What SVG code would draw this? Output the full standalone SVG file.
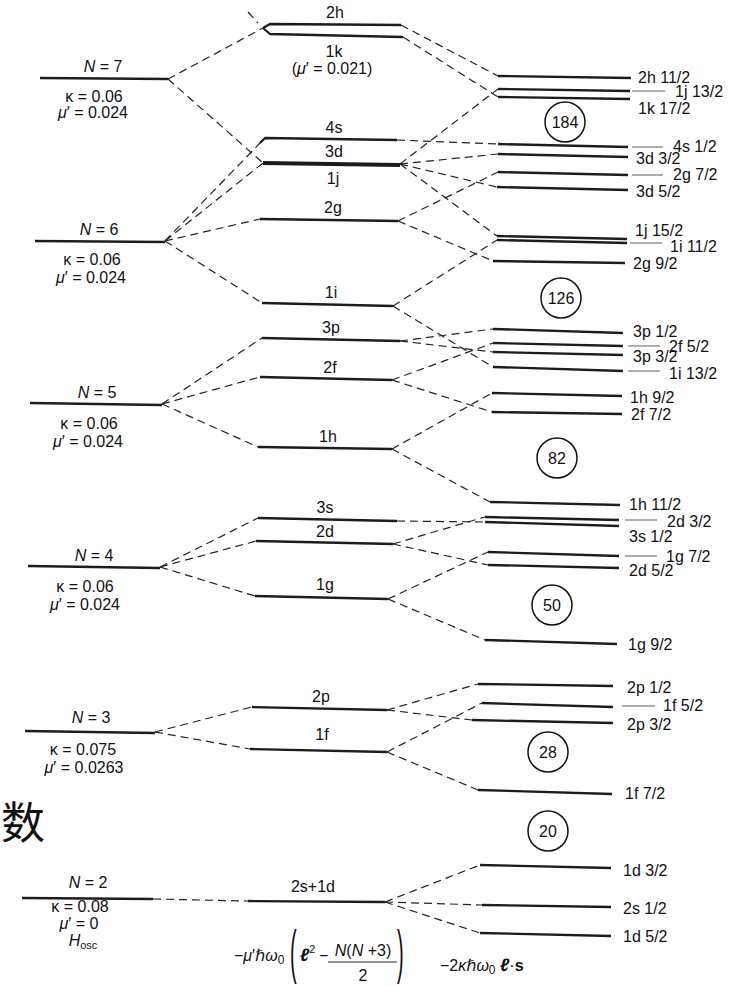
<svg xmlns="http://www.w3.org/2000/svg" width="732" height="987" viewBox="0 0 732 987">
<style>
.lv{stroke:#1c1c1c;stroke-width:2.3;fill:none;stroke-linejoin:round}
.thk{stroke:#1c1c1c;stroke-width:4;fill:none}
.dash{stroke:#222;stroke-width:1.2;stroke-dasharray:8 5;fill:none}
.lead{stroke:#333;stroke-width:0.8}
.mag{fill:none;stroke:#111;stroke-width:1.5}
text{font-family:"Liberation Sans",Arial,"DejaVu Sans",sans-serif;font-size:16px;fill:#111}
.m{text-anchor:middle}
.i{font-style:italic}
</style>
<rect width="732" height="987" fill="#fff"/>

<!-- left oscillator levels -->
<g id="N7"><path class="lv" d="M40,78 L168,79"/><text class="m" x="103" y="72"><tspan class="i">N</tspan> = 7</text><text class="m" x="94" y="102">κ = 0.06</text><text class="m" x="93" y="118"><tspan class="i">μ</tspan>′ = 0.024</text></g>
<g id="N6"><path class="lv" d="M35,241 L165,242"/><text class="m" x="99" y="235"><tspan class="i">N</tspan> = 6</text><text class="m" x="92" y="265">κ = 0.06</text><text class="m" x="91" y="283"><tspan class="i">μ</tspan>′ = 0.024</text></g>
<g id="N5"><path class="lv" d="M30,403 L162,405"/><text class="m" x="97" y="398"><tspan class="i">N</tspan> = 5</text><text class="m" x="89" y="429">κ = 0.06</text><text class="m" x="88" y="447"><tspan class="i">μ</tspan>′ = 0.024</text></g>
<g id="N4"><path class="lv" d="M28,566 L160,568"/><text class="m" x="94" y="561"><tspan class="i">N</tspan> = 4</text><text class="m" x="85" y="592">κ = 0.06</text><text class="m" x="85" y="610"><tspan class="i">μ</tspan>′ = 0.024</text></g>
<g id="N3"><path class="lv" d="M25,731 L155,733"/><text class="m" x="91" y="723"><tspan class="i">N</tspan> = 3</text><text class="m" x="83" y="755">κ = 0.075</text><text class="m" x="84" y="773"><tspan class="i">μ</tspan>′ = 0.0263</text></g>
<g id="N2"><path class="lv" d="M22,898 L153,899"/><text class="m" x="88" y="888"><tspan class="i">N</tspan> = 2</text><text class="m" x="80" y="912">κ = 0.08</text><text class="m" x="79" y="929"><tspan class="i">μ</tspan>′ = 0</text><text class="m" x="83" y="946"><tspan class="i">H</tspan><tspan font-size="11" dy="3">osc</tspan></text></g>

<text x="1" y="839" style="font-family:'Noto Sans CJK SC','Noto Sans CJK JP',sans-serif;font-size:44px">数</text>

<!-- middle levels -->
<g id="m2h"><path class="lv" d="M263,28 L270,24 L401,25"/><text class="m" x="335" y="18">2h</text></g>
<g id="m1k"><path class="lv" d="M263,28 L270,34 L403,37"/><text class="m" x="334" y="57">1k</text><text class="m" x="332" y="74">(<tspan class="i">μ</tspan>′ = 0.021)</text></g>
<g id="m4s"><path class="lv" d="M260,143 L265,138 L397,140"/><text class="m" x="334" y="133">4s</text></g>
<g id="m3d1j"><path class="thk" d="M263,163 L400,165"/><text class="m" x="334" y="157">3d</text><text class="m" x="333" y="184">1j</text></g>
<g id="m2g"><path class="lv" d="M260,219 L398,221"/><text class="m" x="333" y="213">2g</text></g>
<g id="m1i"><path class="lv" d="M262,303 L393,306"/><text class="m" x="331" y="298">1i</text></g>
<g id="m3p"><path class="lv" d="M262,338 L400,341"/><text class="m" x="331" y="333">3p</text></g>
<g id="m2f"><path class="lv" d="M260,377 L392,380"/><text class="m" x="330" y="373">2f</text></g>
<g id="m1h"><path class="lv" d="M258,447 L392,449"/><text class="m" x="328" y="442">1h</text></g>
<g id="m3s"><path class="lv" d="M258,518 L397,521"/><text class="m" x="325" y="513">3s</text></g>
<g id="m2d"><path class="lv" d="M256,541 L393,544"/><text class="m" x="325" y="537">2d</text></g>
<g id="m1g"><path class="lv" d="M255,596 L388,599"/><text class="m" x="325" y="590">1g</text></g>
<g id="m2p"><path class="lv" d="M252,707 L387,710"/><text class="m" x="321" y="702">2p</text></g>
<g id="m1f"><path class="lv" d="M250,749 L387,752"/><text class="m" x="322" y="740">1f</text></g>
<g id="m2s1d"><path class="lv" d="M248,901 L385,902"/><text class="m" x="313" y="892">2s+1d</text></g>

<!-- right levels -->
<g id="r2h112"><path class="lv" d="M498,76 L631,78"/><text x="638" y="83">2h 11/2</text></g>
<g id="r1j132"><path class="lv" d="M498,89 L630,91"/><line class="lead" x1="632" y1="91" x2="665" y2="91"/><text x="675" y="97">1j 13/2</text></g>
<g id="r1k172"><path class="lv" d="M498,97 L630,99"/><text x="638" y="114">1k 17/2</text></g>
<g id="r4s12"><path class="lv" d="M498,144 L628,147"/><line class="lead" x1="632" y1="147" x2="663" y2="147"/><text x="673" y="152">4s 1/2</text></g>
<g id="r3d32"><path class="lv" d="M498,154 L628,157"/><text x="636" y="164">3d 3/2</text></g>
<g id="r2g72"><path class="lv" d="M498,172 L628,175"/><line class="lead" x1="632" y1="175" x2="663" y2="175"/><text x="673" y="180">2g 7/2</text></g>
<g id="r3d52"><path class="lv" d="M497,187 L628,190"/><text x="636" y="197">3d 5/2</text></g>
<g id="r1j152"><path class="lv" d="M497,236 L627,239"/><text x="635" y="236">1j 15/2</text></g>
<g id="r1i112"><path class="lv" d="M497,240 L627,243"/><line class="lead" x1="630" y1="243" x2="662" y2="243"/><text x="670" y="252">1i 11/2</text></g>
<g id="r2g92"><path class="lv" d="M493,261 L625,263"/><text x="633" y="269">2g 9/2</text></g>
<g id="r3p12"><path class="lv" d="M493,329 L623,333"/><text x="633" y="337">3p 1/2</text></g>
<g id="r2f52"><path class="lv" d="M493,343 L623,346"/><line class="lead" x1="628" y1="346" x2="660" y2="346"/><text x="669" y="352">2f 5/2</text></g>
<g id="r3p32"><path class="lv" d="M493,352 L623,355"/><text x="633" y="362">3p 3/2</text></g>
<g id="r1i132"><path class="lv" d="M493,367 L623,371"/><line class="lead" x1="628" y1="371" x2="660" y2="371"/><text x="669" y="379">1i 13/2</text></g>
<g id="r1h92"><path class="lv" d="M492,393 L622,396"/><text x="630" y="403">1h 9/2</text></g>
<g id="r2f72"><path class="lv" d="M492,412 L622,414"/><text x="631" y="420">2f 7/2</text></g>
<g id="r1h112"><path class="lv" d="M490,502 L620,505"/><text x="629" y="510">1h 11/2</text></g>
<g id="r2d32"><path class="lv" d="M485,517 L619,520"/><line class="lead" x1="625" y1="520" x2="657" y2="520"/><text x="667" y="527">2d 3/2</text></g>
<g id="r3s12"><path class="lv" d="M485,522 L619,526"/><text x="629" y="542">3s 1/2</text></g>
<g id="r1g72"><path class="lv" d="M488,552 L619,556"/><line class="lead" x1="625" y1="556" x2="657" y2="556"/><text x="666" y="562">1g 7/2</text></g>
<g id="r2d52"><path class="lv" d="M488,565 L619,568"/><text x="629" y="576">2d 5/2</text></g>
<g id="r1g92"><path class="lv" d="M485,640 L617,644"/><text x="628" y="650">1g 9/2</text></g>
<g id="r2p12"><path class="lv" d="M478,684 L613,686"/><text x="627" y="693">2p 1/2</text></g>
<g id="r1f52"><path class="lv" d="M482,703 L613,707"/><line class="lead" x1="622" y1="706" x2="655" y2="706"/><text x="663" y="711">1f 5/2</text></g>
<g id="r2p32"><path class="lv" d="M472,720 L613,723"/><text x="627" y="730">2p 3/2</text></g>
<g id="r1f72"><path class="lv" d="M478,790 L612,794"/><text x="625" y="799">1f 7/2</text></g>
<g id="r1d32"><path class="lv" d="M480,865 L611,868"/><text x="623" y="876">1d 3/2</text></g>
<g id="r2s12"><path class="lv" d="M482,905 L611,907"/><text x="623" y="914">2s 1/2</text></g>
<g id="r1d52"><path class="lv" d="M480,933 L611,936"/><text x="623" y="942">1d 5/2</text></g>

<!-- magic numbers -->
<g id="magic184"><circle class="mag" cx="565" cy="122" r="20"/><text class="m" x="565" y="128">184</text></g>
<g id="magic126"><circle class="mag" cx="561" cy="298" r="20"/><text class="m" x="561" y="304">126</text></g>
<g id="magic82"><circle class="mag" cx="557" cy="458" r="20"/><text class="m" x="557" y="464">82</text></g>
<g id="magic50"><circle class="mag" cx="552" cy="605" r="20"/><text class="m" x="552" y="611">50</text></g>
<g id="magic28"><circle class="mag" cx="548" cy="752" r="20"/><text class="m" x="548" y="758">28</text></g>
<g id="magic20"><circle class="mag" cx="548" cy="831" r="20"/><text class="m" x="548" y="837">20</text></g>

<!-- connectors -->
<g id="connectors" class="dash">
<path d="M168,79 L263,28"/>
<path d="M168,79 L263,163"/>
<path d="M248,12 L258,23"/>
<path d="M165,241 L260,143"/>
<path d="M165,241 L263,163"/>
<path d="M165,241 L260,219"/>
<path d="M165,241 L262,303"/>
<path d="M162,404 L262,338"/>
<path d="M162,404 L260,377"/>
<path d="M162,404 L258,447"/>
<path d="M160,567 L258,518"/>
<path d="M160,567 L256,541"/>
<path d="M160,567 L255,596"/>
<path d="M155,732 L252,707"/>
<path d="M155,732 L250,749"/>
<path d="M153,899 L248,901"/>
<path d="M401,25 L498,76"/>
<path d="M403,37 L498,97"/>
<path d="M397,140 L498,144"/>
<path d="M400,164 L498,89"/>
<path d="M400,164 L498,154"/>
<path d="M400,164 L497,187"/>
<path d="M400,164 L497,236"/>
<path d="M398,221 L498,172"/>
<path d="M398,221 L493,261"/>
<path d="M393,306 L497,240"/>
<path d="M393,306 L493,367"/>
<path d="M400,341 L493,329"/>
<path d="M400,341 L493,352"/>
<path d="M392,380 L493,343"/>
<path d="M392,380 L492,412"/>
<path d="M392,449 L492,393"/>
<path d="M392,449 L490,502"/>
<path d="M397,521 L485,522"/>
<path d="M393,544 L485,517"/>
<path d="M393,544 L488,565"/>
<path d="M388,599 L488,552"/>
<path d="M388,599 L485,640"/>
<path d="M387,710 L478,684"/>
<path d="M387,710 L472,720"/>
<path d="M387,752 L482,703"/>
<path d="M387,752 L478,790"/>
<path d="M385,902 L480,865"/>
<path d="M385,902 L482,905"/>
<path d="M385,902 L480,933"/>
</g>

<!-- formulas -->
<g id="formula1">
<text x="234" y="961" style="font-size:16px">−<tspan class="i">μ</tspan>′ℏ<tspan class="i">ω</tspan><tspan font-size="12" dy="3">0</tspan></text>
<text transform="translate(290,972) scale(1,3)" style="font-size:20px">(</text>
<text x="300" y="961" style="font-size:18px;font-weight:bold;font-style:italic">ℓ<tspan font-size="11" dy="-8" font-weight="normal" font-style="normal">2</tspan></text>
<text x="319" y="961" style="font-size:16px">−</text>
<text class="m" x="363" y="956" style="font-size:16px"><tspan class="i">N</tspan>(<tspan class="i">N</tspan> +3)</text>
<line x1="328" y1="962" x2="397" y2="962" stroke="#111" stroke-width="0.9"/>
<text class="m" x="363" y="981" style="font-size:16px">2</text>
<text transform="translate(397,972) scale(1,3)" style="font-size:20px">)</text>
</g>
<g id="formula2">
<text x="440" y="971" style="font-size:16px">−2<tspan class="i">κ</tspan>ℏ<tspan class="i">ω</tspan><tspan font-size="12" dy="3">0</tspan><tspan dy="-3"> </tspan><tspan font-weight="bold" font-style="italic" font-size="18">ℓ</tspan>·<tspan font-weight="bold">s</tspan></text>
</g>
</svg>
